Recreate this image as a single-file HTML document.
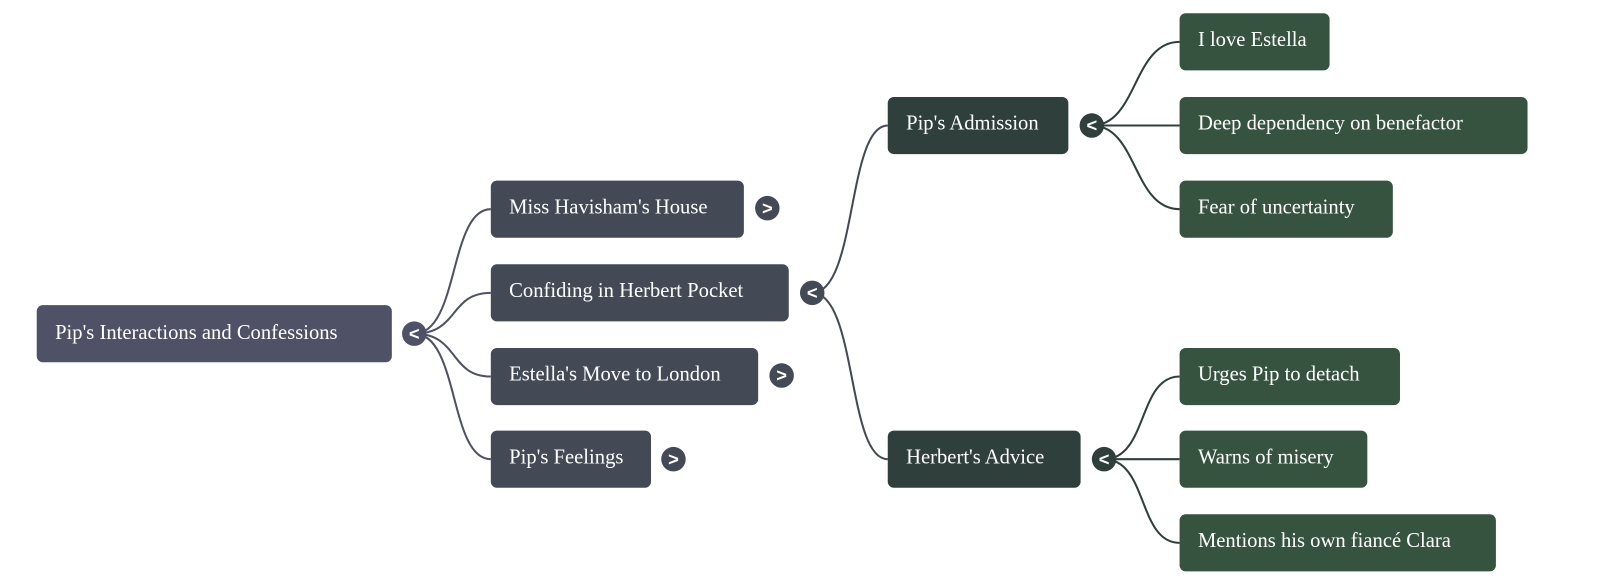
<!DOCTYPE html>
<html><head><meta charset="utf-8"><style>
html,body{margin:0;padding:0;background:#fff;width:1600px;height:585px;overflow:hidden}
text{font-family:"Liberation Serif",serif;font-size:20.2px;fill:#fff}
</style></head><body>
<svg width="1600" height="585" xmlns="http://www.w3.org/2000/svg">
<g transform="scale(1.0204)">
<g fill="none" stroke-width="2">
<g stroke="#4f5166">
<path d="M406,327 C450,327 440,205 481,205"/>
<path d="M406,327 C450,327 440,287 481,287"/>
<path d="M406,327 C450,327 440,369 481,369"/>
<path d="M406,327 C450,327 440,450 481,450"/>
</g>
<g stroke="#434a56">
<path d="M796,287 C840,287 830,123 870,123"/>
<path d="M796,287 C840,287 830,450 870,450"/>
</g>
<g stroke="#2f403c">
<path d="M1070,123 C1115,123 1110,41 1156,41"/>
<path d="M1070,123 L1156,123"/>
<path d="M1070,123 C1115,123 1110,205 1156,205"/>
<path d="M1082,450 C1125,450 1115,369 1156,369"/>
<path d="M1082,450 L1156,450"/>
<path d="M1082,450 C1125,450 1115,532 1156,532"/>
</g>
</g>
<rect x="36" y="299" width="348" height="56" rx="6" fill="#4f5166"/>
<text x="54" y="332">Pip's Interactions and Confessions</text>
<g fill="#434a56">
<rect x="481" y="177" width="248" height="56" rx="6"/>
<rect x="481" y="259" width="292" height="56" rx="6"/>
<rect x="481" y="341" width="262" height="56" rx="6"/>
<rect x="481" y="422" width="157" height="56" rx="6"/>
</g>
<text x="499" y="209">Miss Havisham's House</text>
<text x="499" y="291">Confiding in Herbert Pocket</text>
<text x="499" y="373">Estella's Move to London</text>
<text x="499" y="454">Pip's Feelings</text>
<g fill="#2f403c">
<rect x="870" y="95" width="177" height="56" rx="6"/>
<rect x="870" y="422" width="189" height="56" rx="6"/>
</g>
<text x="888" y="127">Pip's Admission</text>
<text x="888" y="454">Herbert's Advice</text>
<g fill="#365340">
<rect x="1156" y="13" width="147" height="56" rx="6"/>
<rect x="1156" y="95" width="341" height="56" rx="6"/>
<rect x="1156" y="177" width="209" height="56" rx="6"/>
<rect x="1156" y="341" width="216" height="56" rx="6"/>
<rect x="1156" y="422" width="184" height="56" rx="6"/>
<rect x="1156" y="504" width="310" height="56" rx="6"/>
</g>
<text x="1174" y="45">I love Estella</text>
<text x="1174" y="127">Deep dependency on benefactor</text>
<text x="1174" y="209">Fear of uncertainty</text>
<text x="1174" y="373">Urges Pip to detach</text>
<text x="1174" y="454">Warns of misery</text>
<text x="1174" y="536">Mentions his own fiancé Clara</text>
<g text-anchor="middle">
<circle cx="406" cy="327" r="12" fill="#4f5166"/><text x="406" y="333" style="font-family:'Liberation Sans',sans-serif;font-size:18px;font-weight:bold">&lt;</text>
<circle cx="752" cy="204" r="12" fill="#434a56"/><text x="752" y="210" style="font-family:'Liberation Sans',sans-serif;font-size:18px;font-weight:bold">&gt;</text>
<circle cx="796" cy="287" r="12" fill="#434a56"/><text x="796" y="293" style="font-family:'Liberation Sans',sans-serif;font-size:18px;font-weight:bold">&lt;</text>
<circle cx="766" cy="368" r="12" fill="#434a56"/><text x="766" y="374" style="font-family:'Liberation Sans',sans-serif;font-size:18px;font-weight:bold">&gt;</text>
<circle cx="660" cy="450" r="12" fill="#434a56"/><text x="660" y="456" style="font-family:'Liberation Sans',sans-serif;font-size:18px;font-weight:bold">&gt;</text>
<circle cx="1070" cy="123" r="12" fill="#2f403c"/><text x="1070" y="129" style="font-family:'Liberation Sans',sans-serif;font-size:18px;font-weight:bold">&lt;</text>
<circle cx="1082" cy="450" r="12" fill="#2f403c"/><text x="1082" y="456" style="font-family:'Liberation Sans',sans-serif;font-size:18px;font-weight:bold">&lt;</text>
</g>
</g>
</svg>
</body></html>
